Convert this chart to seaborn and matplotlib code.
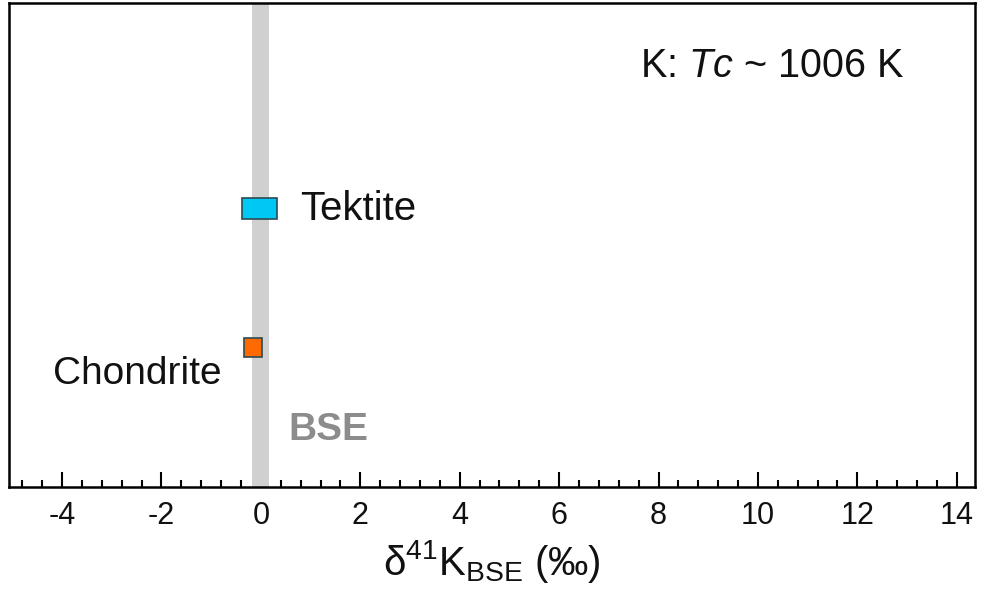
import seaborn as sns
import matplotlib.pyplot as plt

# data: delta41K ranges shown as boxes
samples = ["Chondrite", "Tektite"]
y_pos = [1, 2]
low = [-0.34, -0.38]
high = [0.02, 0.32]
box_h = [0.14, 0.15]
colors = ["#ff6a00", "#00c8f5"]
bse_band = (-0.18, 0.16)

sns.set_style("white")
plt.rcParams["font.family"] = ["Liberation Sans", "DejaVu Sans"]
plt.rcParams["mathtext.fontset"] = "custom"
plt.rcParams["mathtext.rm"] = "Liberation Sans"
plt.rcParams["mathtext.it"] = "Liberation Sans:italic"
plt.rcParams["axes.unicode_minus"] = False
plt.rcParams["text.color"] = "#111111"
plt.rcParams["axes.labelcolor"] = "#111111"
plt.rcParams["xtick.color"] = "#111111"

fig, ax = plt.subplots(figsize=(9.84, 5.9), dpi=100)
fig.subplots_adjust(left=0.009, right=0.991, top=0.995, bottom=0.175)

ax.axvspan(*bse_band, color="#d0d0d0", lw=0, zorder=1)
widths = [h - l for l, h in zip(low, high)]
ax.barh(y_pos, widths, left=low, height=box_h, color=colors,
        edgecolor="#2b4a55", linewidth=1.2, zorder=3)

ax.text(0.78, 2, "Tektite", fontsize=29, va="center", ha="left")
ax.text(-0.78, 0.81, "Chondrite", fontsize=28, va="center", ha="right")
ax.text(0.55, 0.41, "BSE", fontsize=28, fontweight="bold", color="#8c8c8c",
        va="center", ha="left")
ax.text(12.96, 3.03, r"K: $Tc$ ~ 1006 K", fontsize=28.5, va="center", ha="right")

ax.set_xlim(-5.07, 14.37)
ax.set_ylim(0, 3.48)
ax.set_xticks(range(-4, 15, 2))
ax.set_xticks([x * 0.4 for x in range(-12, 36)], minor=True)
ax.set_yticks([])
ax.tick_params(axis="x", which="both", bottom=True, direction="in",
               color="black", width=1.5)
ax.tick_params(axis="x", which="major", length=11, labelsize=22, pad=10)
ax.tick_params(axis="x", which="minor", length=5)
for s in ax.spines.values():
    s.set_linewidth(1.8)
    s.set_color("black")
ax.set_xlabel("δ$^{41}$K$_{\\rm BSE}$ (‰)", fontsize=29, labelpad=5)

fig.savefig("out.png", dpi=100)
